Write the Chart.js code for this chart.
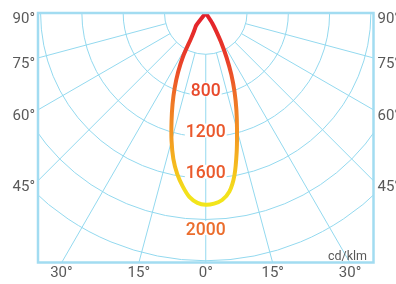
<!DOCTYPE html>
<html>
<head>
<meta charset="utf-8">
<title>Lichtverteilung</title>
<script src="https://cdn.jsdelivr.net/npm/chart.js"></script>
<style>
    html, body { margin: 0; padding: 0; background: #fff; }
    #wrap { width: 396px; height: 284px; }
</style>
</head>
<body>
<div id="wrap"><canvas id="ldc"></canvas></div>
<script>
    // Lichtstärke in cd/klm, Winkel in Grad ab Nadir (minus = links)
    const curveAngles = [-40, -37.5, -35, -32.5, -30, -27.5, -25, -22.5, -20, -17.5, -15, -12.5, -10, -7.5, -5, -2.5, 0,
                         2.5, 5, 7.5, 10, 12.5, 15, 17.5, 20, 22.5, 25, 27.5, 30, 32.5, 35];
    const curveValues = [0, 150, 180, 215, 285, 478, 633, 785, 940, 1102, 1281, 1451, 1589, 1700, 1795, 1845, 1862,
                         1852, 1822, 1750, 1600, 1384, 1170, 987, 816, 648, 478, 330, 200, 120, 0];

    const rings = [400, 800, 1200, 1600, 2000, 2400];
    const ringLabels = [800, 1200, 1600, 2000];
    const spokes = [-75, -60, -45, -30, -15, 0, 15, 30, 45, 60, 75];
    const sideTicks = [90, 75, 60, 45];
    const sideTickLabels = ['90°', '75°', '60°', '45°'];
    const bottomTicks = [-30, -15, 0, 15, 30];
    const bottomTickLabels = ['30°', '15°', '0°', '15°', '30°'];
    const unitLabel = 'cd/klm';

    const X_HALF = 1625;   // Mitte bis Seitenrand
    const Y_MAX = 2422;    // Mitte bis Unterrand

    const GRID = '#93d9ef';
    const FRAME = '#a2dcf1';
    const TEXT = '#595959';
    const ringLabelColors = ['#e84a2c', '#ea582c', '#ea5a2c', '#eb6d2d'];

    const rad = d => d * Math.PI / 180;

    const curvePoints = curveAngles.map((a, i) => ({
        x: curveValues[i] * Math.sin(rad(a)),
        y: curveValues[i] * Math.cos(rad(a))
    }));

    function curveGradient(context) {
        const chart = context.chart;
        if (!chart.chartArea) return '#e8262a';
        const y = chart.scales.y;
        const g = chart.ctx.createLinearGradient(0, y.getPixelForValue(0), 0, y.getPixelForValue(Math.max(...curveValues)));
        g.addColorStop(0, '#e31e2b');
        g.addColorStop(0.25, '#e9402a');
        g.addColorStop(0.45, '#ef7426');
        g.addColorStop(0.65, '#f39a22');
        g.addColorStop(0.82, '#f5c01d');
        g.addColorStop(0.93, '#f3e01b');
        g.addColorStop(1, '#f2e61b');
        return g;
    }

    // Polarraster: Kreise + Strahlen, auf den Rahmen beschnitten
    const polarGrid = {
        id: 'polarGrid',
        beforeDatasetsDraw(chart) {
            const {ctx, chartArea: a, scales: {x, y}} = chart;
            const cx = x.getPixelForValue(0), cy = y.getPixelForValue(0);
            const px = v => x.getPixelForValue(v) - cx;
            ctx.save();
            ctx.beginPath();
            ctx.rect(a.left, a.top, a.width, a.height);
            ctx.clip();
            ctx.strokeStyle = GRID;
            ctx.lineWidth = 1;
            rings.forEach(v => {
                ctx.beginPath();
                ctx.arc(cx, cy, px(v), 0, Math.PI);
                ctx.stroke();
            });
            const r0 = px(rings[0]), r1 = Math.hypot(a.width, a.height);
            spokes.forEach(d => {
                const s = Math.sin(rad(d)), c = Math.cos(rad(d));
                ctx.beginPath();
                ctx.moveTo(cx + s * r0, cy + c * r0);
                ctx.lineTo(cx + s * r1, cy + c * r1);
                ctx.stroke();
            });
            ctx.restore();
        },
        afterDatasetsDraw(chart) {
            const {ctx, chartArea: a, scales: {x, y}} = chart;
            const cx = x.getPixelForValue(0);
            const peak = Math.max(...curveValues);
            ctx.save();
            // Rahmen
            ctx.strokeStyle = FRAME;
            ctx.lineWidth = 2.5;
            ctx.strokeRect(a.left, a.top, a.width, a.height);
            // Werte an den Kreisen
            ctx.font = '500 17.5px Roboto';
            ctx.textAlign = 'center';
            ctx.textBaseline = 'alphabetic';
            ringLabels.forEach((v, i) => {
                const label = String(v);
                const ry = y.getPixelForValue(v);
                const by = v > peak ? ry + 15.5 : ry + 0.5;
                const w = ctx.measureText(label).width;
                ctx.fillStyle = '#fff';
                ctx.fillRect(cx - w / 2 - 1, by - 13.5, w + 2, 14);
                ctx.fillStyle = ringLabelColors[i];
                ctx.fillText(label, cx, by);
            });
            // Einheit
            ctx.font = '12.5px Roboto';
            ctx.fillStyle = TEXT;
            ctx.textAlign = 'right';
            ctx.fillText(unitLabel, a.right - 6.5, a.bottom - 3);
            ctx.restore();
        }
    };

    const tickFont = { family: 'Roboto', size: 15 };

    const sideAxis = (position, width) => ({
        type: 'linear',
        position: position,
        min: 0,
        max: Y_MAX,
        reverse: true,
        grid: { display: false, drawTicks: false },
        border: { display: false },
        afterBuildTicks: s => { s.ticks = sideTicks.map(d => ({ value: X_HALF / Math.tan(rad(d)) })); },
        afterFit: s => { s.width = width; },
        ticks: {
            autoSkip: false,
            padding: position === 'left' ? 3 : 4,
            labelOffset: 6.5,
            color: TEXT,
            font: tickFont,
            callback: (v, i) => sideTickLabels[i]
        }
    });

    new Chart(document.getElementById('ldc'), {
        type: 'scatter',
        data: {
            datasets: [{
                data: curvePoints,
                showLine: true,
                borderColor: curveGradient,
                borderWidth: 4,
                borderJoinStyle: 'round',
                borderCapStyle: 'round',
                tension: 0.3,
                pointRadius: 0
            }]
        },
        options: {
            responsive: true,
            maintainAspectRatio: false,
            animation: false,
            layout: { padding: { top: 12.5 } },
            plugins: {
                legend: { display: false },
                tooltip: { enabled: false }
            },
            scales: {
                x: {
                    type: 'linear',
                    position: 'bottom',
                    min: -X_HALF,
                    max: X_HALF,
                    grid: { display: false, drawTicks: false },
                    border: { display: false },
                    afterBuildTicks: s => { s.ticks = bottomTicks.map(d => ({ value: Y_MAX * Math.tan(rad(d)) })); },
                    afterFit: s => { s.height = 21.5; },
                    ticks: {
                        autoSkip: false,
                        maxRotation: 0,
                        padding: 2,
                        color: TEXT,
                        font: tickFont,
                        callback: (v, i) => bottomTickLabels[i]
                    }
                },
                y: sideAxis('left', 38),
                y2: sideAxis('right', 22.5)
            }
        },
        plugins: [polarGrid]
    });
</script>
</body>
</html>
